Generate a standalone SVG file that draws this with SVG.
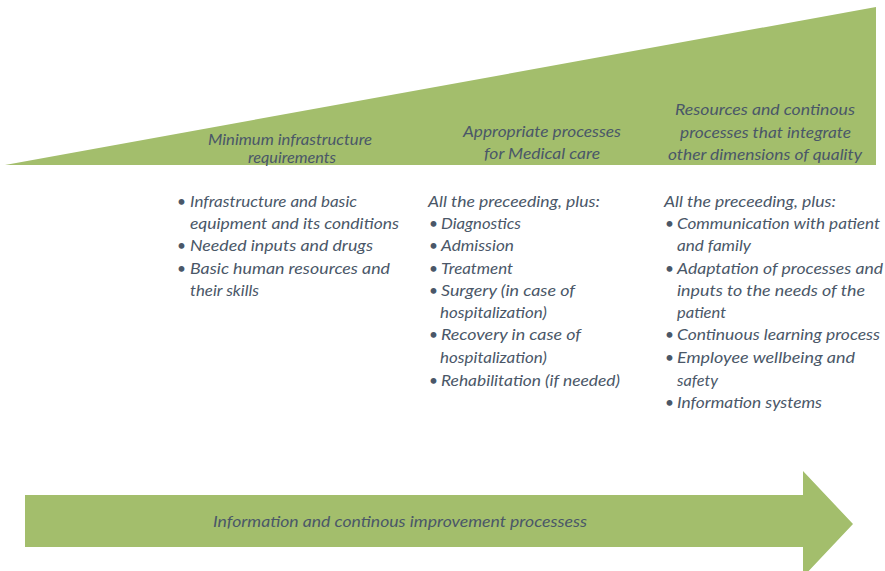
<svg xmlns="http://www.w3.org/2000/svg" width="885" height="571" viewBox="0 0 885 571">
<style>
.g{fill:#a3be6c}
.h{font-family:Lato,"Open Sans",sans-serif;font-style:italic;font-size:16px;fill:#4a5768}
.b{font-family:Lato,"Open Sans",sans-serif;font-style:italic;font-size:15.5px;fill:#4a5768}
</style>
<rect width="885" height="571" fill="#ffffff"/>
<g id="wedge">
<polygon class="g" points="5,165 876,7 876,165"/>
<text class="h" x="208" y="145" textLength="164" lengthAdjust="spacingAndGlyphs">Minimum infrastructure</text>
<text class="h" x="248" y="163" textLength="88" lengthAdjust="spacingAndGlyphs">requirements</text>
<text class="h" x="463" y="137" textLength="158" lengthAdjust="spacingAndGlyphs">Appropriate processes</text>
<text class="h" x="484" y="159" textLength="116" lengthAdjust="spacingAndGlyphs">for Medical care</text>
<text class="h" x="675" y="115" textLength="180" lengthAdjust="spacingAndGlyphs">Resources and continous</text>
<text class="h" x="680" y="138" textLength="171" lengthAdjust="spacingAndGlyphs">processes that integrate</text>
<text class="h" x="668" y="160" textLength="194" lengthAdjust="spacingAndGlyphs">other dimensions of quality</text>
</g>
<g id="col1">
<text class="b" x="177" y="207">•</text>
<text class="b" x="190" y="207" textLength="167" lengthAdjust="spacingAndGlyphs">Infrastructure and basic</text>
<text class="b" x="190" y="229" textLength="209" lengthAdjust="spacingAndGlyphs">equipment and its conditions</text>
<text class="b" x="177" y="251">•</text>
<text class="b" x="190" y="251" textLength="183" lengthAdjust="spacingAndGlyphs">Needed inputs and drugs</text>
<text class="b" x="177" y="274">•</text>
<text class="b" x="190" y="274" textLength="200" lengthAdjust="spacingAndGlyphs">Basic human resources and</text>
<text class="b" x="190" y="296" textLength="69" lengthAdjust="spacingAndGlyphs">their skills</text>
</g>
<g id="col2">
<text class="b" x="428" y="207" textLength="172" lengthAdjust="spacingAndGlyphs">All the preceeding, plus:</text>
<text class="b" x="429" y="229">•</text>
<text class="b" x="441" y="229" textLength="80" lengthAdjust="spacingAndGlyphs">Diagnostics</text>
<text class="b" x="429" y="251">•</text>
<text class="b" x="441" y="251" textLength="73" lengthAdjust="spacingAndGlyphs">Admission</text>
<text class="b" x="429" y="274">•</text>
<text class="b" x="441" y="274" textLength="72" lengthAdjust="spacingAndGlyphs">Treatment</text>
<text class="b" x="429" y="296">•</text>
<text class="b" x="441" y="296" textLength="134" lengthAdjust="spacingAndGlyphs">Surgery (in case of</text>
<text class="b" x="440" y="318" textLength="107" lengthAdjust="spacingAndGlyphs">hospitalization)</text>
<text class="b" x="429" y="340">•</text>
<text class="b" x="441" y="340" textLength="140" lengthAdjust="spacingAndGlyphs">Recovery in case of</text>
<text class="b" x="440" y="363" textLength="107" lengthAdjust="spacingAndGlyphs">hospitalization)</text>
<text class="b" x="429" y="386">•</text>
<text class="b" x="441" y="386" textLength="179" lengthAdjust="spacingAndGlyphs">Rehabilitation (if needed)</text>
</g>
<g id="col3">
<text class="b" x="664" y="207" textLength="172" lengthAdjust="spacingAndGlyphs">All the preceeding, plus:</text>
<text class="b" x="665" y="229">•</text>
<text class="b" x="677" y="229" textLength="203" lengthAdjust="spacingAndGlyphs">Communication with patient</text>
<text class="b" x="677" y="251" textLength="74" lengthAdjust="spacingAndGlyphs">and family</text>
<text class="b" x="665" y="274">•</text>
<text class="b" x="677" y="274" textLength="206" lengthAdjust="spacingAndGlyphs">Adaptation of processes and</text>
<text class="b" x="677" y="296" textLength="188" lengthAdjust="spacingAndGlyphs">inputs to the needs of the</text>
<text class="b" x="677" y="318" textLength="49" lengthAdjust="spacingAndGlyphs">patient</text>
<text class="b" x="665" y="340">•</text>
<text class="b" x="677" y="340" textLength="203" lengthAdjust="spacingAndGlyphs">Continuous learning process</text>
<text class="b" x="665" y="363">•</text>
<text class="b" x="677" y="363" textLength="178" lengthAdjust="spacingAndGlyphs">Employee wellbeing and</text>
<text class="b" x="677" y="386" textLength="41" lengthAdjust="spacingAndGlyphs">safety</text>
<text class="b" x="665" y="408">•</text>
<text class="b" x="677" y="408" textLength="145" lengthAdjust="spacingAndGlyphs">Information systems</text>
</g>
<g id="arrow">
<polygon class="g" points="25,495 803,495 803,471 853,524 803,577 803,547 25,547"/>
<text class="h" x="213" y="527" textLength="374" lengthAdjust="spacingAndGlyphs">Information and continous improvement processess</text>
</g>
</svg>
